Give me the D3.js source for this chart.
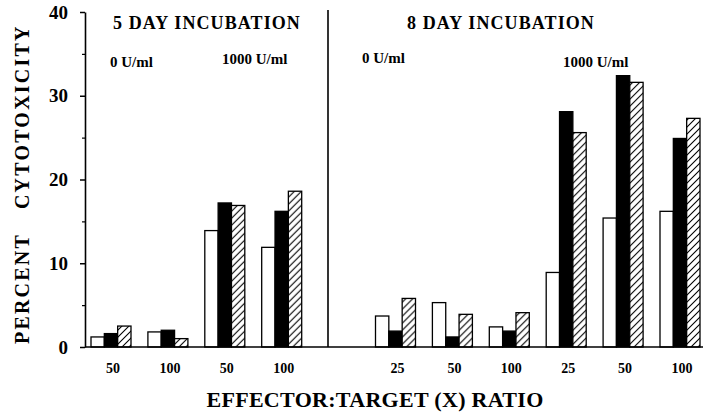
<!DOCTYPE html>
<html>
<head>
<meta charset="utf-8">
<script src="https://cdn.jsdelivr.net/npm/d3@7"></script>
<style>
  body { margin: 0; background: #fff; }
  svg text { font-family: "Times New Roman", Tinos, "Liberation Serif", "DejaVu Serif", "Noto Serif", FreeSerif, Times, serif !important; font-weight: bold; fill: #000; }
</style>
</head>
<body>
<div id="chart"></div>
<script>
// groups (effector:target ratio) per panel
var leftGroups  = ["5d-0-50", "5d-0-100", "5d-1000-50", "5d-1000-100"];
var rightGroups = ["8d-0-25", "8d-0-50", "8d-0-100", "8d-1000-25", "8d-1000-50", "8d-1000-100"];
var groupLabels = ["50", "100", "50", "100", "25", "50", "100", "25", "50", "100"];

// three bar series (white, black, hatched)
var seriesNames = ["open", "solid", "hatched"];
var openValues    = [1.2, 1.8, 13.9, 11.9, 3.7, 5.3, 2.4, 8.9, 15.4, 16.2];
var solidValues   = [1.6, 2.0, 17.2, 16.2, 1.9, 1.2, 1.9, 28.1, 32.4, 24.9];
var hatchedValues = [2.5, 1.0, 16.9, 18.6, 5.8, 3.9, 4.1, 25.6, 31.6, 27.3];

var yTicks = [0, 10, 20, 30, 40];
var yMinorTicks = [5, 15, 25, 35];

var width = 703, height = 416;

var svg = d3.select("#chart")
    .append("svg")
    .attr("width", width)
    .attr("height", height);

// hatch pattern
var defs = svg.append("defs");
var pat = defs.append("pattern")
    .attr("id", "hatch")
    .attr("patternUnits", "userSpaceOnUse")
    .attr("width", 7)
    .attr("height", 7);
pat.append("rect").attr("width", 7).attr("height", 7).attr("fill", "#fff");
pat.append("path")
    .attr("d", "M-1,1 l2,-2 M0,7 l7,-7 M6,8 l2,-2")
    .attr("stroke", "#000")
    .attr("stroke-width", 1.1);

var groups = leftGroups.concat(rightGroups);

// an empty slot sits between the two panels
var x = d3.scaleBand()
    .domain(leftGroups.concat(["gap"], rightGroups))
    .range([91, 700])
    .paddingInner(0.297)
    .paddingOuter(0);

var xs = d3.scaleBand()
    .domain(seriesNames)
    .range([0, x.bandwidth()]);

var y = d3.scaleLinear()
    .domain([0, 40])
    .range([347, 12]);

var fills = { open: "#fff", solid: "#000", hatched: "url(#hatch)" };

var rows = groups.map(function (g, i) {
    return {
        id: g,
        label: groupLabels[i],
        values: [
            { key: "open", v: openValues[i] },
            { key: "solid", v: solidValues[i] },
            { key: "hatched", v: hatchedValues[i] }
        ]
    };
});

// bars
var gGroups = svg.selectAll("g.grp")
    .data(rows)
    .enter()
    .append("g")
    .attr("class", "grp")
    .attr("transform", function (d) { return "translate(" + x(d.id) + ",0)"; });

gGroups.selectAll("rect")
    .data(function (d) { return d.values; })
    .enter()
    .append("rect")
    .attr("x", function (d) { return xs(d.key); })
    .attr("y", function (d) { return y(d.v); })
    .attr("width", xs.bandwidth())
    .attr("height", function (d) { return y(0) - y(d.v); })
    .attr("fill", function (d) { return fills[d.key]; })
    .attr("stroke", "#000")
    .attr("stroke-width", 1.3);

// y axis
var yAxis = svg.append("g")
    .attr("transform", "translate(85,0)")
    .call(d3.axisLeft(y).tickValues(yTicks).tickSize(5).tickSizeOuter(0).tickPadding(12).tickFormat(d3.format("d")));
yAxis.select(".domain").attr("stroke-width", 1.6);
yAxis.selectAll(".tick line").attr("stroke-width", 1.5);
yAxis.selectAll("text").style("font-size", "19px");

var yMinor = svg.append("g")
    .attr("transform", "translate(85,0)")
    .call(d3.axisLeft(y).tickValues(yMinorTicks).tickSize(3).tickFormat(""));
yMinor.select(".domain").remove();
yMinor.selectAll(".tick line").attr("stroke-width", 1.2);

// x axis labels
var xAxis = svg.append("g")
    .attr("transform", "translate(0," + y(0) + ")")
    .call(d3.axisBottom(x).tickValues(groups).tickSize(0).tickPadding(16)
        .tickFormat(function (d) { return groupLabels[groups.indexOf(d)]; }));
xAxis.select(".domain").remove();
xAxis.selectAll("text")
    .attr("dx", 2)
    .style("font-size", "14px");

// baseline
svg.append("line")
    .attr("x1", 85).attr("x2", 703)
    .attr("y1", y(0)).attr("y2", y(0))
    .attr("stroke", "#000")
    .attr("stroke-width", 1.6);

// panel divider
svg.append("line")
    .attr("x1", 328).attr("x2", 328)
    .attr("y1", 10).attr("y2", y(0))
    .attr("stroke", "#000")
    .attr("stroke-width", 1.6);

// panel titles
svg.append("text").attr("x", 113).attr("y", 29)
    .style("font-size", "18px").style("letter-spacing", "1.1px")
    .text("5 DAY INCUBATION");
svg.append("text").attr("x", 407).attr("y", 29)
    .style("font-size", "18px").style("letter-spacing", "1.1px")
    .text("8 DAY INCUBATION");

// dose labels
var doseLabels = [
    { t: "0 U/ml", x: 110, y: 67 },
    { t: "1000 U/ml", x: 222, y: 64 },
    { t: "0 U/ml", x: 362, y: 63 },
    { t: "1000 U/ml", x: 563, y: 67 }
];
svg.selectAll("text.dose")
    .data(doseLabels)
    .enter()
    .append("text")
    .attr("class", "dose")
    .attr("x", function (d) { return d.x; })
    .attr("y", function (d) { return d.y; })
    .style("font-size", "15px")
    .text(function (d) { return d.t; });

// axis titles
var yTitle = svg.append("text")
    .attr("transform", "translate(29,344) rotate(-90)")
    .style("font-size", "20px")
    .style("letter-spacing", "2.2px");
yTitle.append("tspan").text("PERCENT");
yTitle.append("tspan").attr("dx", 24).text("CYTOTOXICITY");

svg.append("text")
    .attr("x", 375)
    .attr("y", 407)
    .attr("text-anchor", "middle")
    .style("font-size", "22px")
    .style("letter-spacing", "0.3px")
    .text("EFFECTOR:TARGET (X) RATIO");
</script>
</body>
</html>
